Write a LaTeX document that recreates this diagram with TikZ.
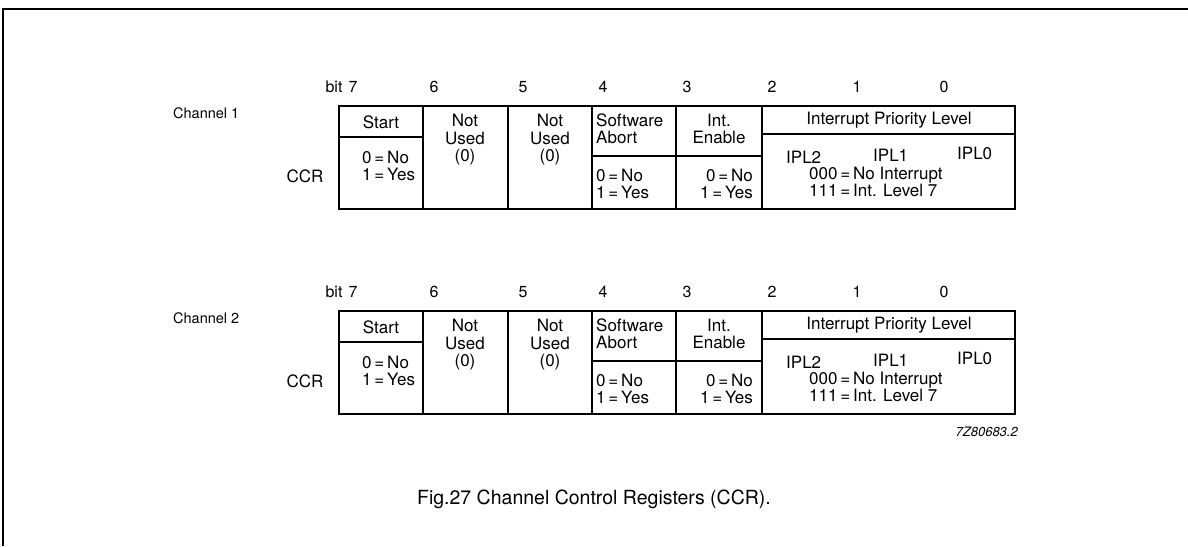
\documentclass[tikz,border=0pt]{standalone}
\usepackage{fontspec}
\setmainfont{TeX Gyre Heros}
\usetikzlibrary{positioning}
\tikzset{style={font=\fontsize{17}{17.5}\selectfont}}

\begin{document}
\begin{tikzpicture}[x=1pt,y=-1pt,reg/.style={line width=1.9pt},
    txt/.style={inner sep=0pt,align=center},
    lbl/.style={inner sep=0pt,font=\fontsize{14.5}{16}\selectfont},
    bitno/.style={inner sep=0pt,font=\fontsize{16}{17}\selectfont}]
    \useasboundingbox (0,0) rectangle (1188,546);
    \draw[line width=1.8pt] (3,546) -- (3,9) -- (1188,9);
    \foreach \ch/\yo in {1/0,2/205}{
        \begin{scope}[yshift=-\yo pt]
            \node[lbl,anchor=west] (chan\ch) at (173,113) {Channel \ch};
            \node[txt] (ccr\ch) at (305,176) {CCR};
            \node[bitno] (bit\ch) at (334,87) {bit};
            \foreach \b/\x in {7/353,6/434,5/523,4/603,3/687,2/772,1/857,0/944}
                \node[bitno] (b\ch-\b) at (\x,87) {\b};
            \draw[reg] (339,106) rectangle (1015,209);
            \foreach \x in {423,508,592,676,762}
                \draw[reg] (\x,106) -- (\x,209);
            \draw[reg] (339,137) -- (423,137);
            \draw[reg] (592,156) -- (762,156);
            \draw[reg] (762,134) -- (1015,134);
            \node[txt] (start\ch) at (381,122) {Start};
            \node[txt,align=left,anchor=west] (startv\ch) at (362,166) {0\,=\,No\\1\,=\,Yes};
            \node[txt] (nu6\ch) at (465,140) {Not\\Used\\(0)};
            \node[txt] (nu5\ch) at (550,140) {Not\\Used\\(0)};
            \node[txt,align=left,anchor=west] (sa\ch) at (596,129) {Software\\Abort};
            \node[txt,align=left,anchor=west] (sav\ch) at (596,184) {0\,=\,No\\1\,=\,Yes};
            \node[txt] (ie\ch) at (719,129) {Int.\\Enable};
            \node[txt,align=right,anchor=east] (iev\ch) at (753,184) {0\,=\,No\\1\,=\,Yes};
            \node[txt] (ipl\ch) at (889,120) {Interrupt Priority Level};
            \node[txt,anchor=west] (ipl2\ch) at (786,157) {IPL2};
            \node[txt,anchor=west] (ipl1\ch) at (873,155) {IPL1};
            \node[txt,anchor=west] (ipl0\ch) at (957,153) {IPL0};
            \node[txt,align=left,anchor=west] (iplv\ch) at (809,182) {000\,=\,No Interrupt\\111\,=\,Int. Level 7};
        \end{scope}
    }
    \node[inner sep=0pt,anchor=east,font=\fontsize{13}{15}\selectfont\itshape] (code) at (1018,432) {7Z80683.2};
    \node[inner sep=0pt,font=\fontsize{19.5}{23}\selectfont] (caption) at (594,499) {Fig.27 Channel Control Registers (CCR).};
\end{tikzpicture}
\end{document}
